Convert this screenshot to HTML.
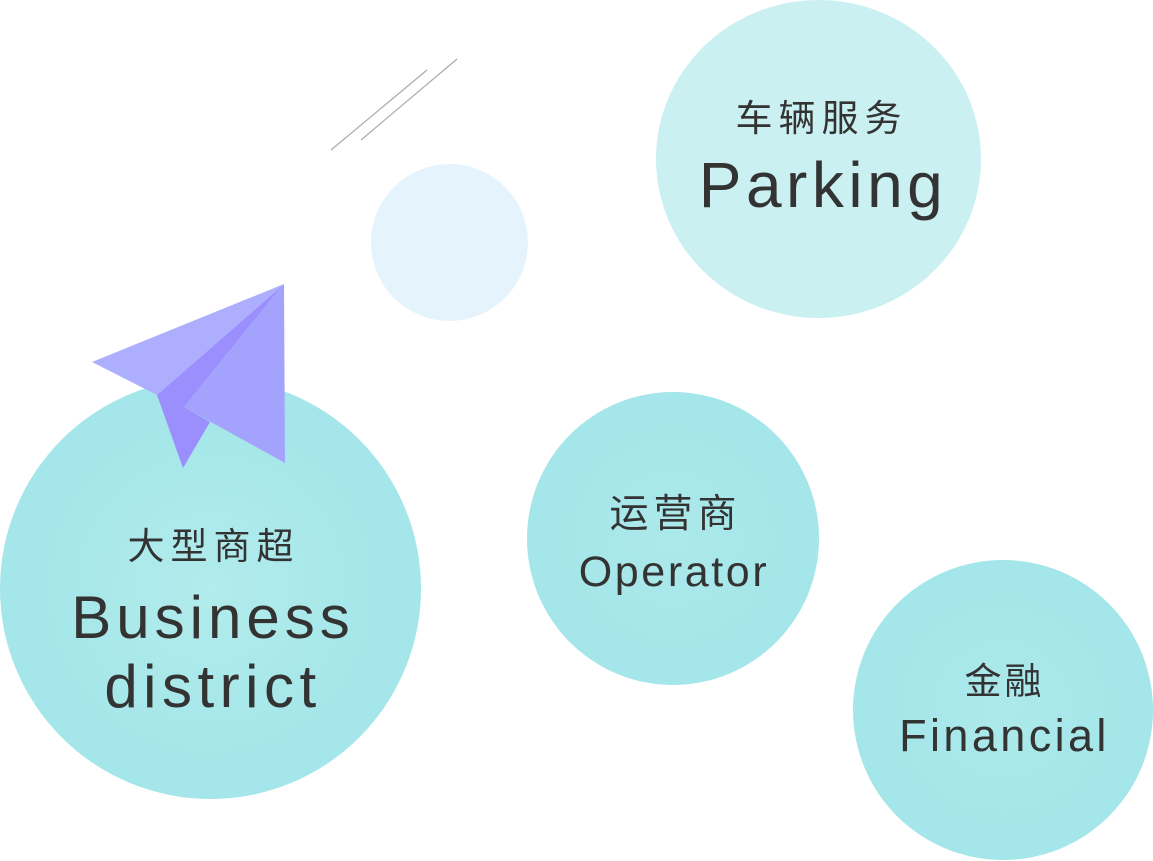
<!DOCTYPE html>
<html><head><meta charset="utf-8"><style>
body{margin:0;width:1153px;height:861px;overflow:hidden;background:#fff;position:relative;font-family:"Liberation Sans","Noto Sans CJK SC",sans-serif;color:#333}
.c{position:absolute;border-radius:50%}
.l{position:absolute;text-align:center;white-space:nowrap}
</style></head><body>
<div class="c" style="left:0;top:378px;width:421px;height:421px;background:radial-gradient(circle,#b2ecec 0%,#a4e6e9 60%)"></div>
<div class="c" style="left:656px;top:0;width:325px;height:318px;background:#caf0f1"></div>
<div class="c" style="left:371px;top:164px;width:157px;height:157px;background:#e5f3fc"></div>
<div class="c" style="left:527px;top:392px;width:292px;height:293px;background:radial-gradient(circle,#ace9ea 0%,#a4e6e9 60%)"></div>
<div class="c" style="left:853px;top:560px;width:300px;height:300px;background:radial-gradient(circle,#ace9ea 0%,#a4e6e9 60%)"></div>
<svg style="position:absolute;left:0;top:0" width="1153" height="861">
<line x1="331" y1="150" x2="427" y2="70" stroke="#aaa" stroke-width="1.2"/>
<line x1="361" y1="140" x2="457" y2="59" stroke="#aaa" stroke-width="1.2"/>
<polygon points="92,362 284,284 157,395" fill="#aeaefe"/>
<polygon points="157,395 284,284 184,407 210,422 183,468" fill="#9a8ffd"/>
<polygon points="284,284 285,463 184,407" fill="#a3a3fe"/>
</svg>
<div class="l" style="left:0;top:516px;width:421px;font-size:37px;letter-spacing:6px;padding-left:6px;box-sizing:border-box">大型商超</div>
<div class="l" style="left:0;top:585px;width:421px;font-size:60px;line-height:66px;letter-spacing:5px;padding-left:5px;box-sizing:border-box">Business</div>
<div class="l" style="left:0;top:654px;width:421px;font-size:60px;line-height:66px;letter-spacing:5.5px;padding-left:5px;box-sizing:border-box">district</div>
<div class="l" style="left:656px;top:88px;width:325px;font-size:37px;letter-spacing:6px;padding-left:6px;box-sizing:border-box">车辆服务</div>
<div class="l" style="left:656px;top:148px;width:330px;font-size:64px;letter-spacing:4.5px;padding-left:4px;box-sizing:border-box">Parking</div>
<div class="l" style="left:527px;top:483px;width:292px;font-size:39px;letter-spacing:5px;padding-left:5px;box-sizing:border-box">运营商</div>
<div class="l" style="left:527px;top:548px;width:292px;font-size:43px;letter-spacing:2.6px;padding-left:2px;box-sizing:border-box">Operator</div>
<div class="l" style="left:853px;top:651px;width:300px;font-size:37px;letter-spacing:3px;padding-left:3px;box-sizing:border-box">金融</div>
<div class="l" style="left:853px;top:710px;width:300px;font-size:45px;letter-spacing:3.4px;padding-left:3px;box-sizing:border-box">Financial</div>
</body></html>
